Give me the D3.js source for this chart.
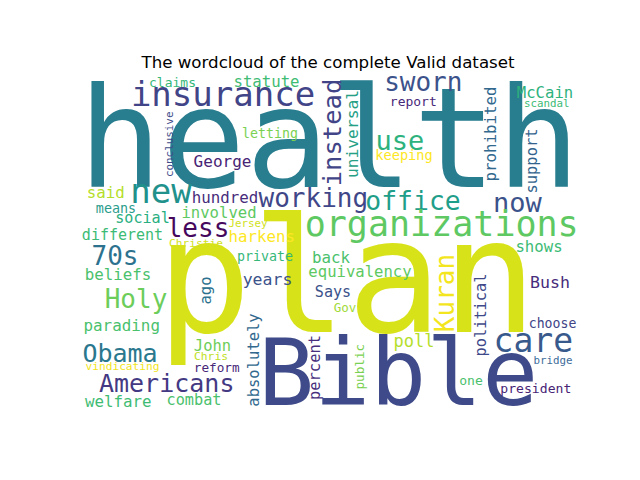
<!DOCTYPE html>
<html>
<head>
<meta charset="utf-8">
<script src="https://cdn.jsdelivr.net/npm/d3@7"></script>
<style>
  body { margin: 0; background: #fff; }
</style>
</head>
<body>
<svg id="chart" width="640" height="480"></svg>
<script>
// word cloud content
const words = [
  "health", "plan", "Bible", "insurance", "claims", "statute", "sworn", "report",
  "McCain", "scandal", "letting", "use", "George", "keeping", "new", "said",
  "hundred", "working", "office", "now", "means", "involved", "social", "less",
  "Jersey", "organizations", "different", "harkens", "Christie", "shows", "70s",
  "private", "back", "beliefs", "years", "equivalency", "Holy", "Says", "Bush",
  "Gov", "parading", "choose", "poll", "care", "John", "Obama", "Chris", "bridge",
  "vindicating", "reform", "Americans", "one", "president", "welfare", "combat",
  "instead", "universal", "prohibited", "support", "conclusive", "ago", "Kuran",
  "political", "absolutely", "percent", "public"
];
// relative weight (font size in cloud units)
const weights = [
  139, 158, 93, 34, 13, 15.7, 26, 13,
  15.6, 10.8, 13.3, 27, 16, 13.7, 34, 15.8,
  15.8, 26, 26.4, 27, 13.4, 15.6, 15.1, 26,
  10.8, 35, 15, 15.8, 11.2, 15.7, 26,
  13.3, 15.8, 15.8, 16.5, 15.6, 26, 15.1, 16.6,
  12.5, 15.9, 13.2, 17, 33, 15.5, 25, 11.3, 10.8,
  11.2, 12.7, 25, 13.1, 13.1, 15.8, 15.2,
  25.5, 16.3, 15.8, 15.4, 10.9, 15.6, 26,
  15.3, 15.5, 15.4, 12.7
];
// placement in the cloud canvas (496 x 331)
const cloudX = [
  249.2, 266.8, 318.3, 143, 92.5, 186.5, 343.3, 333.3,
  465, 466.7, 190, 320, 142.5, 324, 81, 25.8,
  145, 233.3, 333, 437.5, 36, 139, 62.5, 118,
  168, 361.7, 42.5, 181.7, 116, 459, 35,
  185, 251, 38, 187.5, 280, 56, 253, 470,
  265, 41.7, 472.5, 334, 453.3, 132.5, 40, 131, 473,
  42.5, 136.7, 86.7, 391, 455.8, 38.3, 114,
  260.5, 278, 415.5, 457, 93, 130.5, 374,
  405.5, 178.5, 240, 283.5
];
const cloudY = [
  112.3, 257, 330, 31, 12.3, 12.3, 15.7, 31,
  23.3, 32.3, 63.3, 75, 91.7, 85, 128.3, 123.3,
  127.7, 131.7, 135, 136.7, 138.3, 142.7, 148.3, 161.7,
  151.7, 161, 165, 166.7, 171.7, 176.7, 190,
  185.7, 188.3, 205, 210.3, 202.3, 233.3, 222.3, 213.3,
  236.7, 255.7, 253.3, 272.3, 277, 276.3, 286.7, 285, 289,
  295, 296.7, 316.7, 310, 317.7, 331.7, 330,
  57.5, 59, 59, 86, 69.3, 215.5, 218,
  240, 285, 292.5, 291.7
];
// 1 = turned to read bottom to top
const vertical = [
  0, 0, 0, 0, 0, 0, 0, 0,
  0, 0, 0, 0, 0, 0, 0, 0,
  0, 0, 0, 0, 0, 0, 0, 0,
  0, 0, 0, 0, 0, 0, 0,
  0, 0, 0, 0, 0, 0, 0, 0,
  0, 0, 0, 0, 0, 0, 0, 0, 0,
  0, 0, 0, 0, 0, 0, 0,
  1, 1, 1, 1, 1, 1, 1,
  1, 1, 1, 1
];
// viridis shade given to each word
const colors = [
  "#287d8e", "#d8e219", "#3e4a89", "#414487", "#35b779", "#3fbc73", "#3b528b", "#482878",
  "#2db27d", "#3cbb75", "#7ad151", "#2db27d", "#482475", "#fde725", "#21918c", "#b5de2b",
  "#472d7b", "#3f4788", "#1f9e89", "#3b528b", "#2a9d8c", "#5ec962", "#29af7f", "#46085c",
  "#d0e11c", "#5ec962", "#3cbb75", "#fde725", "#d2e21b", "#3cbb75", "#2c728e",
  "#35b779", "#4ac16d", "#4ac16d", "#3b528b", "#5ec962", "#6ccd5a", "#3b528b", "#472d7b",
  "#a0da39", "#4ac16d", "#414487", "#b5de2b", "#38598c", "#6ece58", "#2a788e", "#c0df25", "#3e6c9a",
  "#f1e51d", "#482878", "#443983", "#4ac16d", "#482475", "#3fbc73", "#4ac16d",
  "#414487", "#25a085", "#31688e", "#33638d", "#3e4c8a", "#2c728e", "#f4e61e",
  "#3e4989", "#31688e", "#472f7d", "#7ad151"
];

const title = "The wordcloud of the complete Valid dataset";

const data = words.map((w, i) => ({
  text: w,
  size: weights[i],
  x: cloudX[i],
  y: cloudY[i],
  rot: vertical[i],
  color: colors[i]
}));

const svg = d3.select("#chart");
const cloudW = 496, cloudH = 331;
const box = { left: 80, top: 75 };

const x = d3.scaleLinear().domain([0, cloudW]).range([box.left, box.left + cloudW]);
const y = d3.scaleLinear().domain([0, cloudH]).range([box.top, box.top + cloudH]);
const fontSize = d3.scaleLinear().domain([0, cloudH]).range([0, cloudH]);

const g = svg.append("g");

g.selectAll("text.word")
  .data(data)
  .enter().append("text")
  .attr("class", "word")
  .attr("text-anchor", "middle")
  .attr("transform", d => `translate(${x(d.x)},${y(d.y)})` + (d.rot ? " rotate(-90)" : ""))
  .attr("font-family", "'DejaVu Sans Mono', monospace")
  .attr("font-size", d => fontSize(d.size) + "px")
  .attr("fill", d => d.color)
  .text(d => d.text);

svg.append("text")
  .attr("x", box.left + cloudW / 2)
  .attr("y", 68)
  .attr("text-anchor", "middle")
  .attr("font-family", "'DejaVu Sans', sans-serif")
  .attr("font-size", "16.67px")
  .attr("fill", "#000")
  .text(title);
</script>
</body>
</html>
